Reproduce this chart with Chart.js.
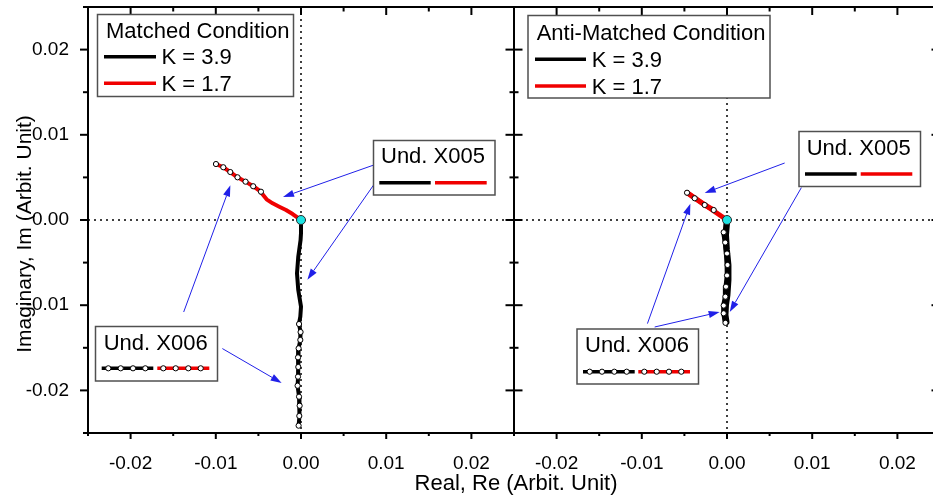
<!DOCTYPE html>
<html lang="en">
<head>
<meta charset="UTF-8">
<title>Undulator Phase Trajectories</title>
<script src="https://cdn.jsdelivr.net/npm/chart.js"></script>
<style>
  html, body { margin: 0; padding: 0; background: #fff; }
  #wrap { position: relative; width: 933px; height: 496px; overflow: hidden; }
  #wrap canvas { position: absolute; left: 0; top: 0; }
</style>
</head>
<body>
<div id="wrap">
  <canvas id="matched" width="933" height="496"></canvas>
  <canvas id="anti" width="960" height="496"></canvas>
</div>
<script>
  // axis ranges (both panels share them)
  const reRange = [-0.025, 0.025];
  const imRange = [-0.025, 0.025];
  const tickStep = 0.005;

  // trajectories as [Re, Im] pairs
  const matchedK39X005 = [[0, 0], [0, -0.00153], [-0.00005, -0.00235], [-0.00032, -0.00431], [-0.00047, -0.00626],
    [-0.00032, -0.00822], [0, -0.01017], [-0.00008, -0.01135], [-0.00023, -0.01213]];
  const matchedK17X005 = [[0, 0], [-0.00098, 0.0007], [-0.00176, 0.00117], [-0.00255, 0.00156], [-0.00333, 0.00196],
    [-0.00404, 0.00243], [-0.0047, 0.00325]];
  const matchedK39X006 = [[-0.00023, -0.01221], [-0.00005, -0.01315], [-0.00008, -0.01408], [-0.00028, -0.01506],
    [-0.00035, -0.01612], [-0.00032, -0.01725], [-0.00035, -0.01839], [-0.0004, -0.01945], [-0.00023, -0.02074],
    [-0.00016, -0.0218], [-0.0002, -0.023], [-0.00028, -0.02414]];
  const matchedK17X006 = [[-0.0047, 0.00332], [-0.00561, 0.00396], [-0.00651, 0.0045], [-0.00745, 0.00501],
    [-0.0083, 0.00563], [-0.00912, 0.00619], [-0.00998, 0.00657]];

  const antiK39X005 = [[0, 0], [-0.00015, -0.00176], [-0.00004, -0.00352], [0.00014, -0.00528], [0.00014, -0.00704],
    [0.00002, -0.0088], [-0.00015, -0.00998], [-0.00021, -0.01115], [-0.00009, -0.01197]];
  const antiK17X005 = [[0, 0], [-0.00086, 0.00059], [-0.0018, 0.00123], [-0.00273, 0.00188], [-0.00367, 0.00252],
    [-0.00461, 0.00317]];
  const antiK39X006 = [[-0.00039, -0.00144], [-0.00021, -0.00264], [0, -0.00393], [0.00006, -0.00528], [0, -0.00651],
    [-0.00012, -0.00783], [-0.00019, -0.009], [-0.00039, -0.01004], [-0.00039, -0.01095], [-0.00018, -0.01207]];
  const antiK17X006 = [[-0.00156, 0.00117], [-0.00262, 0.00176], [-0.00379, 0.00255], [-0.00469, 0.0032]];

  const origin = [[0, 0]];

  // annotation arrows: [from, to] in data units
  const matchedArrows = [
    [[0.00845, 0.00642], [-0.00211, 0.0027]],
    [[0.00924, 0.00513], [0.00075, -0.007]],
    [[-0.01377, -0.0108], [-0.00829, 0.00407]],
    [[-0.00923, -0.01509], [-0.00227, -0.01913]]
  ];
  const antiArrows = [
    [[0.00677, 0.00669], [-0.00262, 0.00317]],
    [[0.00873, 0.0038], [0.00032, -0.0108]],
    [[-0.00934, -0.01216], [-0.0043, 0.00192]],
    [[-0.00849, -0.01256], [-0.00086, -0.0108]]
  ];

  const FONT = "'Liberation Sans', Arial, Helvetica, sans-serif";
  const BLACK = '#000';
  const RED = '#f00000';
  const CYAN = '#1de3e3';
  const BLUE = '#2020e8';

  const isMajor = v => Math.abs(v * 100 - Math.round(v * 100)) < 1e-6;
  const tickLabel = v => isMajor(v) ? (Math.abs(v) < 1e-9 ? '0.00' : v.toFixed(2)) : '';

  // legend / label boxes, canvas pixels
  const panels = {
    matched: {
      outerLeft: true,
      arrows: matchedArrows,
      boxes: [
        { x: 97.5, y: 14.5, w: 196, h: 82, title: 'Matched Condition', tx: 106, ty: 37.7,
          rows: [
            { color: BLACK, x1: 104, x2: 156, y: 56.7, label: 'K = 3.9', lx: 161.5, ly: 64.3 },
            { color: RED, x1: 104, x2: 156, y: 83.3, label: 'K = 1.7', lx: 161.5, ly: 91.3 }
          ] },
        { x: 373.5, y: 140.5, w: 121.5, h: 54.5, title: 'Und. X005', tx: 381, ty: 163.3,
          rows: [
            { color: BLACK, x1: 379.3, x2: 430.7, y: 182.7 },
            { color: RED, x1: 435, x2: 486.7, y: 182.7 }
          ] },
        { x: 95.5, y: 326.5, w: 122, h: 54.5, title: 'Und. X006', tx: 103.7, ty: 350,
          rows: [
            { color: BLACK, x1: 101.7, x2: 153.3, y: 368.3, marks: [108.3, 120.7, 133, 145.3] },
            { color: RED, x1: 157.3, x2: 209.3, y: 368.3, marks: [163.3, 175.7, 188.3, 200.7] }
          ] }
      ]
    },
    anti: {
      outerLeft: false,
      arrows: antiArrows,
      boxes: [
        { x: 528, y: 15.5, w: 242, h: 82.5, title: 'Anti-Matched Condition', tx: 536.7, ty: 39.5,
          rows: [
            { color: BLACK, x1: 535, x2: 586, y: 59.3, label: 'K = 3.9', lx: 591.7, ly: 67 },
            { color: RED, x1: 535, x2: 586, y: 86, label: 'K = 1.7', lx: 591.7, ly: 93.7 }
          ] },
        { x: 799, y: 131.5, w: 121.5, h: 55, title: 'Und. X005', tx: 806.7, ty: 155,
          rows: [
            { color: BLACK, x1: 805, x2: 856.7, y: 174 },
            { color: RED, x1: 860.7, x2: 912.3, y: 174 }
          ] },
        { x: 577, y: 329, w: 121.5, h: 55, title: 'Und. X006', tx: 585, ty: 352,
          rows: [
            { color: BLACK, x1: 583, x2: 634.7, y: 371.7, marks: [589.7, 602, 614.3, 626.7] },
            { color: RED, x1: 638.3, x2: 690, y: 371.7, marks: [644.3, 656.7, 669, 681.3] }
          ] }
      ]
    }
  };

  function seg(ctx, x1, y1, x2, y2) {
    ctx.beginPath(); ctx.moveTo(x1, y1); ctx.lineTo(x2, y2); ctx.stroke();
  }

  function circle(ctx, x, y, r) {
    ctx.beginPath(); ctx.arc(x, y, r, 0, Math.PI * 2);
    ctx.fillStyle = '#fff'; ctx.fill();
    ctx.lineWidth = 1; ctx.strokeStyle = BLACK; ctx.stroke();
  }

  function arrow(ctx, x1, y1, x2, y2) {
    const a = Math.atan2(y2 - y1, x2 - x1);
    const len = 11, half = 3.6;
    const bx = x2 - len * Math.cos(a), by = y2 - len * Math.sin(a);
    seg(ctx, x1, y1, bx, by);
    ctx.beginPath();
    ctx.moveTo(x2, y2);
    ctx.lineTo(bx + half * Math.sin(a), by - half * Math.cos(a));
    ctx.lineTo(bx - half * Math.sin(a), by + half * Math.cos(a));
    ctx.closePath(); ctx.fill();
  }

  function drawBox(ctx, b) {
    ctx.fillStyle = '#fff';
    ctx.fillRect(b.x, b.y, b.w, b.h);
    ctx.strokeStyle = '#505050'; ctx.lineWidth = 1.5;
    ctx.strokeRect(b.x, b.y, b.w, b.h);
    ctx.font = '22px ' + FONT;
    ctx.textAlign = 'left'; ctx.textBaseline = 'alphabetic';
    ctx.fillStyle = BLACK;
    ctx.fillText(b.title, b.tx, b.ty);
    b.rows.forEach(r => {
      ctx.strokeStyle = r.color; ctx.lineWidth = 3.5; ctx.lineCap = 'butt';
      seg(ctx, r.x1, r.y, r.x2, r.y);
      (r.marks || []).forEach(mx => circle(ctx, mx, r.y, 2.6));
      if (r.label) {
        ctx.fillStyle = BLACK;
        ctx.fillText(r.label, r.lx, r.ly);
      }
    });
  }

  const panelPlugin = {
    id: 'panel',
    beforeDatasetsDraw(chart) {
      const { ctx, chartArea: a, scales: { x, y } } = chart;
      ctx.save();
      ctx.strokeStyle = BLACK; ctx.lineWidth = 1.5; ctx.setLineDash([2, 4]);
      const y0 = y.getPixelForValue(0), x0 = x.getPixelForValue(0);
      seg(ctx, a.left, y0, a.right, y0);
      seg(ctx, x0, a.top, x0, a.bottom);
      ctx.restore();
    },
    afterDatasetsDraw(chart) {
      const p = panels[chart.canvas.id];
      const { ctx, scales: { x, y } } = chart;
      ctx.save();
      ctx.strokeStyle = BLUE; ctx.fillStyle = BLUE; ctx.lineWidth = 1;
      p.arrows.forEach(([f, t]) => arrow(ctx,
        x.getPixelForValue(f[0]), y.getPixelForValue(f[1]),
        x.getPixelForValue(t[0]), y.getPixelForValue(t[1])));
      ctx.restore();
    },
    afterDraw(chart) {
      const p = panels[chart.canvas.id];
      const { ctx, chartArea: a, scales: { x, y } } = chart;
      ctx.save();
      // frame
      ctx.strokeStyle = BLACK; ctx.lineWidth = 2;
      ctx.strokeRect(a.left, a.top, a.right - a.left, a.bottom - a.top);
      // ticks: outward on the bottom (and outer left), inward elsewhere
      x.ticks.forEach(t => {
        const px = x.getPixelForValue(t.value), m = isMajor(t.value);
        seg(ctx, px, a.bottom, px, a.bottom + (m ? 6 : 3));
        seg(ctx, px, a.top, px, a.top + (m ? 8 : 4.5));
      });
      y.ticks.forEach(t => {
        const py = y.getPixelForValue(t.value), m = isMajor(t.value);
        if (p.outerLeft) seg(ctx, a.left - (m ? 8 : 5), py, a.left, py);
        else seg(ctx, a.left, py, a.left + (m ? 8.5 : 4.5), py);
        seg(ctx, a.right - (m ? 8.5 : 4.5), py, a.right, py);
      });
      p.boxes.forEach(b => drawBox(ctx, b));
      if (p.outerLeft) {
        // shared axis titles
        ctx.fillStyle = BLACK;
        ctx.font = '22px ' + FONT;
        ctx.textAlign = 'center'; ctx.textBaseline = 'alphabetic';
        ctx.fillText('Real, Re (Arbit. Unit)', 516, 490);
        ctx.font = '21px ' + FONT;
        ctx.translate(31, 234);
        ctx.rotate(-Math.PI / 2);
        ctx.fillText('Imaginary, Im (Arbit. Unit)', 0, 0);
      }
      ctx.restore();
    }
  };

  const pts = arr => arr.map(([re, im]) => ({ x: re, y: im }));
  const curve = (arr, color, w = 4) => ({
    data: pts(arr), showLine: true, borderColor: color, borderWidth: w,
    borderJoinStyle: 'round', borderCapStyle: 'round', pointRadius: 0, pointHoverRadius: 0
  });
  const marked = (arr, color, w = 4) => Object.assign(curve(arr, color, w), {
    pointRadius: 2.6, pointBackgroundColor: '#fff', pointBorderColor: BLACK, pointBorderWidth: 1
  });
  const originSet = () => ({
    data: pts(origin), showLine: false, pointRadius: 4.5,
    pointBackgroundColor: CYAN, pointBorderColor: '#2a2a2a', pointBorderWidth: 1
  });

  // fixed scale boxes so both plot areas are the same 426px square
  const fixBox = (w, h) => s => {
    if (w !== null) s.width = w;
    if (h !== null) s.height = h;
    s.paddingTop = s.paddingBottom = s.paddingLeft = s.paddingRight = 0;
  };

  function axis(range, extra) {
    return Object.assign({
      type: 'linear', min: range[0], max: range[1],
      grid: { display: false }, border: { display: false },
      ticks: {
        stepSize: tickStep, autoSkip: false, maxRotation: 0, padding: 11,
        color: BLACK, font: { family: FONT, size: 19 }, callback: tickLabel
      }
    }, extra);
  }

  // first dataset is drawn on top
  function makeChart(id, sets, pad, yVisible) {
    return new Chart(document.getElementById(id), {
      type: 'scatter',
      data: { datasets: sets },
      options: {
        responsive: false,
        animation: false,
        layout: { padding: pad },
        plugins: { legend: { display: false }, tooltip: { enabled: false } },
        scales: {
          x: axis(reRange, { afterFit: fixBox(null, 63) }),
          y: axis(imRange, { display: yVisible, afterFit: fixBox(yVisible ? 88 : 0, null) })
        }
      },
      plugins: [panelPlugin]
    });
  }

  makeChart('matched', [
    originSet(),
    marked(matchedK17X006, RED),
    marked(matchedK39X006, BLACK),
    curve(matchedK17X005, RED),
    curve(matchedK39X005, BLACK)
  ], { left: 0, top: 7, right: 419, bottom: 0 }, true);

  makeChart('anti', [
    originSet(),
    marked(antiK17X006, RED, 5),
    marked(antiK39X006, BLACK, 5),
    curve(antiK17X005, RED, 5),
    curve(antiK39X005, BLACK, 6.5)
  ], { left: 514, top: 7, right: 20, bottom: 0 }, false);
</script>
</body>
</html>
